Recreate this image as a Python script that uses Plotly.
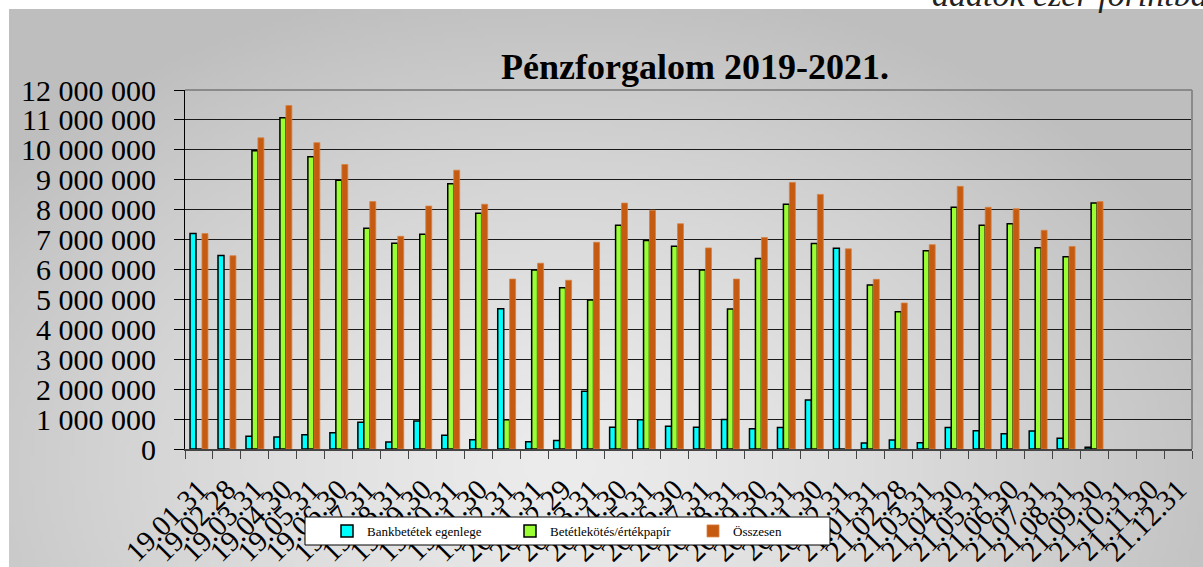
import base64
import struct
import zlib

import numpy as np
import plotly.graph_objects as go

# ---------------- data ----------------
categories = [
    "19.01.31", "19.02.28", "19.03.31", "19.04.30", "19.05.31", "19.06.30",
    "19.07.31", "19.08.31", "19.09.30", "19.10.31", "19.11.30", "19.12.31",
    "20.01.31", "20.02.29", "20.03.31", "20.04.30", "20.05.31", "20.06.30",
    "20.07.31", "20.08.31", "20.09.30", "20.10.31", "20.11.30", "20.12.31",
    "21.01.31", "21.02.28", "21.03.31", "21.04.30", "21.05.31", "21.06.30",
    "21.07.31", "21.08.31", "21.09.30", "21.10.31", "21.11.30", "21.12.31",
]

bankbetetek = [
    7200000, 6470000, 430000, 400000, 480000, 540000, 890000, 230000, 940000,
    460000, 310000, 4690000, 240000, 280000, 1930000, 730000, 980000, 760000,
    730000, 990000, 680000, 720000, 1640000, 6710000, 200000, 300000, 210000,
    720000, 610000, 510000, 600000, 360000, 60000, None, None, None,
]

betetlekotes = [
    0, 0, 9970000, 11070000, 9770000, 8980000, 7380000, 6880000, 7180000,
    8870000, 7880000, 980000, 5980000, 5390000, 4980000, 7480000, 6970000,
    6780000, 5980000, 4680000, 6370000, 8180000, 6870000, 0, 5480000, 4590000,
    6630000, 8080000, 7480000, 7530000, 6730000, 6430000, 8220000, None, None, None,
]

osszesen = [
    7200000, 6460000, 10400000, 11480000, 10240000, 9510000, 8270000, 7110000,
    8120000, 9320000, 8180000, 5680000, 6210000, 5640000, 6910000, 8220000,
    7980000, 7530000, 6720000, 5680000, 7070000, 8910000, 8510000, 6690000,
    5670000, 4880000, 6830000, 8780000, 8080000, 8030000, 7310000, 6770000,
    8270000, None, None, None,
]

y_ticks = list(range(0, 12000001, 1000000))

# ---------------- background gradient (decoration) ----------------
W, H = 1203, 567
L, T, R, B = 185, 90, 1192, 449  # plot area in pixels


def px_x(p):
    return (p - L) / (R - L)


def px_y(p):
    return (B - p) / (B - T)


def png_gray(arr):
    h, w = arr.shape
    raw = b"".join(b"\x00" + arr[i].tobytes() for i in range(h))

    def chunk(t, d):
        c = struct.pack(">I", len(d)) + t + d
        return c + struct.pack(">I", zlib.crc32(t + d) & 0xFFFFFFFF)

    return (b"\x89PNG\r\n\x1a\n"
            + chunk(b"IHDR", struct.pack(">IIBBBBB", w, h, 8, 0, 0, 0, 0))
            + chunk(b"IDAT", zlib.compress(raw, 9))
            + chunk(b"IEND", b""))


gw, gh = 300, 140
gx0, gy0, gx1, gy1 = 9, 9, 1203, 567
xs = np.linspace(gx0, gx1, gw)
ys = np.linspace(gy0, gy1, gh)
XX, YY = np.meshgrid(xs, ys)
d = np.sqrt(((XX - 560) / 720) ** 2 + ((YY - 470) / 500) ** 2)
d = np.clip(d, 0, 1)
val = 236 - 46 * d ** 1.3
img = np.clip(val, 0, 255).astype(np.uint8)
src = "data:image/png;base64," + base64.b64encode(png_gray(img)).decode()

# ---------------- figure ----------------
fig = go.Figure()
fig.add_trace(go.Bar(
    x=categories, y=bankbetetek, name="Bankbetétek egenlege",
    marker=dict(color="#00FFFF", line=dict(color="#000000", width=1.5)),
))
fig.add_trace(go.Bar(
    x=categories, y=betetlekotes, name="Betétlekötés/értékpapír",
    marker=dict(color="#99FF33", line=dict(color="#000000", width=1.5)),
))
fig.add_trace(go.Bar(
    x=categories, y=osszesen, name="Összesen",
    marker=dict(color="#C55A11", line=dict(color="#D9803F", width=0.8)),
))

serif = "Liberation Serif"

fig.update_layout(
    width=W, height=H,
    margin=dict(l=L, r=W - R, t=T, b=H - B, autoexpand=False),
    paper_bgcolor="white",
    plot_bgcolor="#C0C0C0",
    barmode="group", bargap=0.36, bargroupgap=0,
    separators=", ",
    font=dict(family=serif, color="black"),
    title=dict(
        text="<b>Pénzforgalom 2019-2021.</b>",
        font=dict(family=serif, size=36, color="black"),
        x=695 / W, xanchor="center", xref="container",
        y=1 - 66 / H, yanchor="middle", yref="container",
    ),
    showlegend=True,
    legend=dict(
        orientation="h", x=px_x(327), xanchor="left",
        y=px_y(531), yanchor="middle",
        bgcolor="rgba(0,0,0,0)", borderwidth=0,
        font=dict(family=serif, size=13, color="black"),
        entrywidth=138, entrywidthmode="pixels",
        traceorder="normal",
    ),
    images=[dict(
        source=src, xref="paper", yref="paper",
        x=px_x(gx0), y=px_y(gy0),
        sizex=(gx1 - gx0) / (R - L), sizey=(gy1 - gy0) / (B - T),
        xanchor="left", yanchor="top", sizing="stretch", layer="below",
    )],
    shapes=[
        dict(type="line", xref="x domain", yref="y domain", x0=0, x1=1, y0=1, y1=1,
             line=dict(color="#8A8A8A", width=2), layer="above"),
        dict(type="line", xref="x domain", yref="y domain", x0=1, x1=1, y0=0, y1=1,
             line=dict(color="#8A8A8A", width=2), layer="above"),
        dict(type="rect", xref="paper", yref="paper",
             x0=px_x(305), x1=px_x(830), y0=px_y(545), y1=px_y(517),
             fillcolor="white", line=dict(color="black", width=1), layer="above"),
    ],
    annotations=[dict(
        text="<i>adatok ezer forintban</i>", xref="paper", yref="paper",
        x=px_x(930), y=px_y(-6), xanchor="left", yanchor="middle",
        showarrow=False, font=dict(family=serif, size=34, color="#222222"),
    )],
)

fig.update_xaxes(
    type="category", tickmode="linear", tick0=0, dtick=1,
    tickson="boundaries", ticks="outside", ticklen=8, tickcolor="#444444",
    tickangle=-45, ticklabelstandoff=10,
    tickfont=dict(family=serif, size=29, color="black"),
    showline=True, linecolor="#444444", linewidth=2,
    showgrid=False, automargin=False,
    range=[-0.5, len(categories) - 0.5],
)
fig.update_yaxes(
    range=[0, 12000000], tickmode="array", tickvals=y_ticks,
    tickformat=",d", ticks="outside", ticklen=10, tickcolor="black",
    ticklabelstandoff=12,
    tickfont=dict(family=serif, size=30, color="black"),
    showline=True, linecolor="black", linewidth=1,
    showgrid=True, gridcolor="#1A1A1A", gridwidth=1,
    zeroline=False, automargin=False,
)

fig.write_html(
    "out.html",
    config={"displayModeBar": False},
    post_script="document.body.style.margin='0';document.body.style.overflow='hidden';",
)
